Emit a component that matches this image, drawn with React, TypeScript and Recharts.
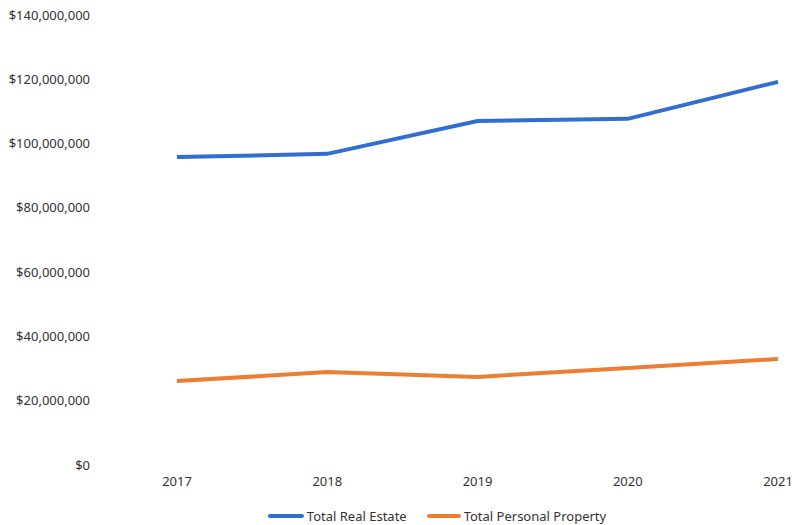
import { LineChart, Line, XAxis, YAxis, Legend } from "recharts";

const years = ["2017", "2018", "2019", "2020", "2021"];
const realEstate = [95800000, 96800000, 107000000, 107700000, 119200000];
const personalProperty = [26100000, 28900000, 27400000, 30200000, 33000000];
const yTicks = [0, 20000000, 40000000, 60000000, 80000000, 100000000, 120000000, 140000000];

const BLUE = "#2f6fcf";
const ORANGE = "#ed7d31";
const FONT = "'Noto Sans', sans-serif";

const data = years.map((year, i) => ({
  year,
  realEstate: realEstate[i],
  personalProperty: personalProperty[i],
}));

const fmt = (v: number) => (v === 0 ? "$0" : "$" + v.toLocaleString("en-US"));

const LegendContent = () => (
  <div style={{ display: "flex", justifyContent: "center", gap: 20, fontFamily: FONT, fontSize: 13, color: "#333", paddingLeft: 96, paddingTop: 6 }}>
    <span style={{ display: "flex", alignItems: "center", gap: 3 }}>
      <span style={{ width: 36, height: 4, background: BLUE, borderRadius: 2, display: "inline-block" }} />
      Total Real Estate
    </span>
    <span style={{ display: "flex", alignItems: "center", gap: 3 }}>
      <span style={{ width: 34, height: 4, background: ORANGE, borderRadius: 2, display: "inline-block" }} />
      Total Personal Property
    </span>
  </div>
);

export default function App() {
  return (
    <div style={{ position: "absolute", left: 0, top: 0, background: "#fff" }}>
      <LineChart width={794} height={525} data={data} margin={{ top: 15, right: 16, bottom: 0, left: 0 }}>
        <XAxis
          dataKey="year"
          axisLine={false}
          tickLine={false}
          tickSize={0}
          tickMargin={12}
          height={36}
          padding={{ left: 77, right: 0 }}
          tick={{ fontSize: 13, fill: "#333", fontFamily: FONT }}
        />
        <YAxis
          ticks={yTicks}
          domain={[0, 140000000]}
          axisLine={false}
          tickLine={false}
          tickSize={0}
          tickMargin={10}
          width={100}
          tickFormatter={fmt}
          tick={{ fontSize: 13, fill: "#333", fontFamily: FONT }}
        />
        <Legend verticalAlign="bottom" height={24} content={<LegendContent />} />
        <Line dataKey="realEstate" stroke={BLUE} strokeWidth={4} dot={false} isAnimationActive={false} />
        <Line dataKey="personalProperty" stroke={ORANGE} strokeWidth={4} dot={false} isAnimationActive={false} />
      </LineChart>
    </div>
  );
}
